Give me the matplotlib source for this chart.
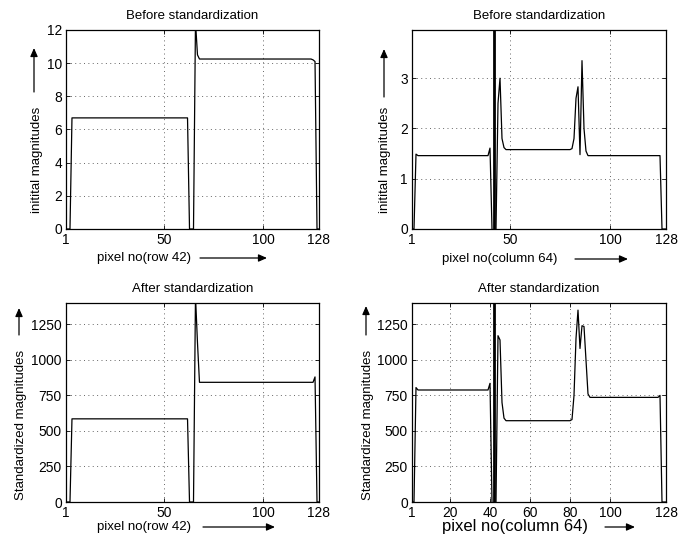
import matplotlib
matplotlib.use("Agg")
import matplotlib.pyplot as plt
import numpy as np

plt.rcParams['font.family'] = ['Liberation Sans', 'DejaVu Sans']

W, H = 689, 543
INF = np.inf

pixel = list(range(1, 129))

# Row 42, before standardization
row42_before = ([0, 0, 0] + [6.7] * 59 + [0, 0, 0] + [12.5, 10.5]
                + [10.25] * 57 + [10.2, 10.1] + [0, 0])
# Column 64, before standardization (x=42 is unbounded)
col64_before = ([0, 0, 1.49] + [1.46] * 36 + [1.61, 0, INF, 0, 2.5, 3.0, 1.8, 1.62]
                + [1.58] * 33 + [1.6, 1.8, 2.6, 2.83, 1.48, 3.35, 2.0, 1.55]
                + [1.46] * 37 + [0, 0, 0])
# Row 42, after standardization
row42_after = ([0, 0, 0] + [585] * 59 + [0, 0, 0] + [1450, 1120]
               + [842] * 58 + [880] + [0, 0])
# Column 64, after standardization (x=42 is unbounded)
col64_after = ([0, 0, 805] + [788] * 36 + [835, 0, INF, 0, 1170, 1140, 700, 590]
               + [572] * 33 + [580, 750, 1150, 1350, 1080, 1240, 1235, 1000, 760]
               + [736] * 35 + [750] + [0, 0, 0])

xticks_a = [1, 50, 100, 128]
xticks_b = [1, 20, 40, 60, 80, 100, 128]
yticks_tl = [0, 2, 4, 6, 8, 10, 12]
yticks_tr = [0, 1, 2, 3]
yticks_b = [0, 250, 500, 750, 1000, 1250]

fig = plt.figure(figsize=(W / 100, H / 100), dpi=100)

def box(l, r, t, b):
    return [l / W, 1 - b / H, (r - l) / W, (b - t) / H]

FS = 9.9
LS = 9.5

def setup(ax, y, xt, yt, ylim, title):
    ax.plot(pixel, y, color='black', linewidth=0.9)
    inf_x = [p for p, v in zip(pixel, y) if np.isinf(v)]
    if inf_x:
        ax.vlines(inf_x, ylim[0], ylim[1], color='black', linewidth=2.0)
    ax.set_xlim(1, 128)
    ax.set_ylim(*ylim)
    ax.set_xticks(xt)
    ax.set_yticks(yt)
    ax.tick_params(direction='in', top=True, right=True, length=3, width=0.6,
                   labelsize=FS, pad=3)
    ax.grid(True, color='#666666', linestyle=(0, (1, 3.5)), linewidth=0.7)
    for s in ax.spines.values():
        s.set_linewidth(0.9)
    ax.set_title(title, fontsize=LS, pad=8)

ax1 = fig.add_axes(box(66, 319, 30, 229))
setup(ax1, row42_before, xticks_a, yticks_tl, (0, 12), 'Before standardization')
ax2 = fig.add_axes(box(412, 666, 30, 229))
setup(ax2, col64_before, xticks_a, yticks_tr, (0, 3.96), 'Before standardization')
ax3 = fig.add_axes(box(66, 319, 303, 502))
setup(ax3, row42_after, xticks_a, yticks_b, (0, 1400), 'After standardization')
ax4 = fig.add_axes(box(412, 666, 303, 502))
setup(ax4, col64_after, xticks_b, yticks_b, (0, 1400), 'After standardization')

def ftxt(x, y, s, rot=0, size=LS, ha='center'):
    fig.text(x / W, 1 - y / H, s, rotation=rot, fontsize=size, ha=ha, va='center')

def farrow(x0, y0, x1, y1):
    fig.add_artist(matplotlib.patches.FancyArrowPatch(
        (x0 / W, 1 - y0 / H), (x1 / W, 1 - y1 / H), transform=fig.transFigure,
        arrowstyle='-|>,head_length=5,head_width=2.2', mutation_scale=1,
        color='black', linewidth=0.9, shrinkA=0, shrinkB=0))

# y labels and arrows
ftxt(37, 160, 'initital magnitudes', rot=90)
farrow(34, 92, 34, 48)
ftxt(385, 160, 'initital magnitudes', rot=90)
farrow(384, 97, 384, 49)
ftxt(21.5, 425, 'Standardized magnitudes', rot=90)
farrow(19, 335, 19, 308)
ftxt(368, 425, 'Standardized magnitudes', rot=90)
farrow(366, 335, 366, 306)

# x labels and arrows
ftxt(97, 258, 'pixel no(row 42)', ha='left')
farrow(200, 258, 267, 258)
ftxt(442, 259, 'pixel no(column 64)', ha='left')
farrow(575, 259, 628, 259)
ftxt(97, 527, 'pixel no(row 42)', ha='left')
farrow(203, 527, 275, 527)
ftxt(442, 527, 'pixel no(column 64)', ha='left', size=12.0)
farrow(605, 527, 635, 527)

fig.savefig('out.png', dpi=100)
